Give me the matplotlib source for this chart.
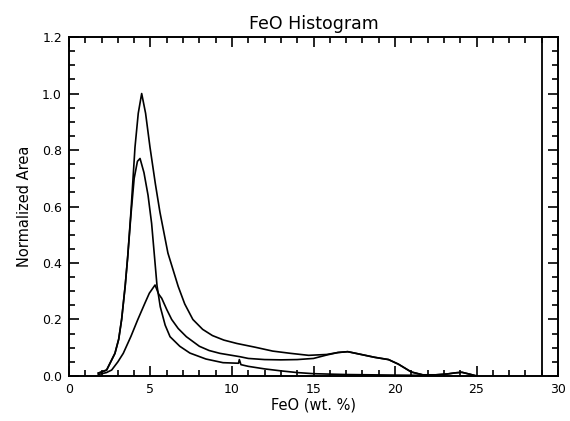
import numpy as np
import matplotlib.pyplot as plt
from matplotlib.ticker import MultipleLocator

# total FeO histogram (peak normalised to 1)
total_x = [1.8, 2.31, 2.82, 3.05, 3.23, 3.45, 3.6, 3.8, 4.05, 4.25, 4.46, 4.7, 4.97, 5.3,
           5.58, 6.07, 6.7, 7.1, 7.6, 8.2, 8.8, 9.5, 10.3, 11.4, 12.5, 13.6, 14.7, 15.8,
           16.5, 17.1, 17.6, 18.75, 19.6, 20.2, 21.0, 21.7, 22.5, 23.2, 23.7, 24.1, 24.6,
           25.0]
total_y = [0.01, 0.021, 0.08, 0.13, 0.2, 0.32, 0.42, 0.58, 0.81, 0.93, 1.0, 0.93, 0.81,
           0.68, 0.58, 0.435, 0.317, 0.255, 0.2, 0.165, 0.143, 0.127, 0.115, 0.102, 0.088,
           0.08, 0.073, 0.076, 0.083, 0.086, 0.08, 0.066, 0.058, 0.042, 0.014, 0.004,
           0.004, 0.007, 0.011, 0.013, 0.006, 0.0]

# low-FeO unit
low_x = [1.8, 2.31, 2.82, 3.05, 3.23, 3.45, 3.6, 3.8, 4.0, 4.2, 4.36, 4.6, 4.85, 5.07,
         5.25, 5.4, 5.6, 5.9, 6.2, 6.8, 7.42, 8.4, 9.45, 10.4, 10.45, 10.55, 11.0, 12.0,
         13.0, 14.0, 15.0, 17.0, 20.0, 22.0]
low_y = [0.01, 0.021, 0.08, 0.13, 0.2, 0.32, 0.42, 0.57, 0.7, 0.76, 0.77, 0.72, 0.64,
         0.54, 0.42, 0.32, 0.245, 0.18, 0.139, 0.105, 0.081, 0.06, 0.047, 0.045, 0.058,
         0.04, 0.034, 0.025, 0.018, 0.012, 0.008, 0.005, 0.003, 0.002]

# high-FeO unit
high_x = [1.8, 2.3, 2.62, 3.0, 3.33, 3.8, 4.21, 4.66, 4.93, 5.28, 5.5, 5.69, 6.0, 6.3,
          6.7, 7.2, 8.0, 8.6, 9.26, 10.5, 11.0, 12.0, 13.0, 14.0, 15.0, 15.8, 16.5, 17.1,
          17.6, 18.75, 19.6, 20.2, 21.0, 21.7, 22.5, 23.2, 23.7, 24.1, 24.6, 25.0]
high_y = [0.005, 0.012, 0.021, 0.05, 0.08, 0.14, 0.198, 0.258, 0.293, 0.322, 0.29, 0.275,
          0.235, 0.2, 0.168, 0.139, 0.105, 0.09, 0.08, 0.068, 0.062, 0.058, 0.057, 0.058,
          0.062, 0.074, 0.083, 0.086, 0.08, 0.066, 0.058, 0.042, 0.014, 0.004, 0.004,
          0.007, 0.011, 0.013, 0.006, 0.0]

cutoff = 29.0

fig = plt.figure(figsize=(5.7, 4.21), dpi=100)
ax = fig.add_axes([0.121, 0.107, 0.858, 0.805])

for xs, ys in [(total_x, total_y), (low_x, low_y), (high_x, high_y)]:
    ax.plot(xs, ys, color="black", linewidth=1.2)
ax.plot([cutoff, cutoff], [0, 1.2], color="black", linewidth=1.3)

ax.set_xlim(0, 30)
ax.set_ylim(0, 1.2)
ax.xaxis.set_major_locator(MultipleLocator(5))
ax.xaxis.set_minor_locator(MultipleLocator(1))
ax.yaxis.set_major_locator(MultipleLocator(0.2))
ax.yaxis.set_minor_locator(MultipleLocator(0.05))
ax.yaxis.set_major_formatter(plt.FormatStrFormatter("%.1f"))
ax.tick_params(which="both", direction="in", top=True, right=True, labelsize=9, width=1.2)
ax.tick_params(which="major", length=7, pad=5)
ax.tick_params(which="minor", length=4)
for s in ax.spines.values():
    s.set_linewidth(1.4)

ax.set_title("FeO Histogram", fontsize=12.5, pad=6)
ax.set_xlabel("FeO (wt. %)", fontsize=10.5, labelpad=1)
ax.set_ylabel("Normalized Area", fontsize=10.5, labelpad=7)

fig.savefig("out.png", dpi=100)
